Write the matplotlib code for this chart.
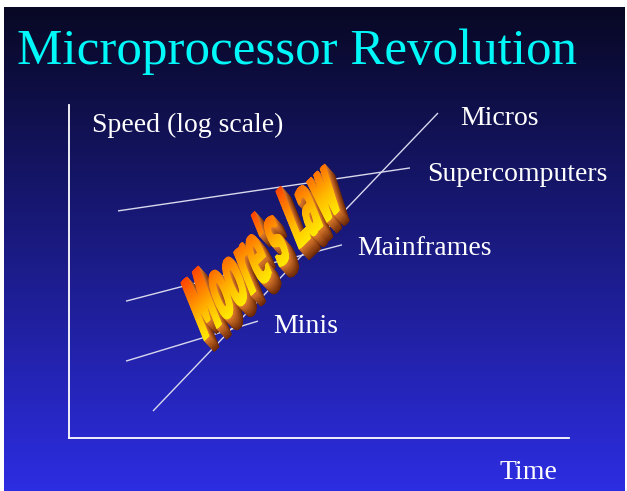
import numpy as np
import matplotlib
matplotlib.use("Agg")
import matplotlib.pyplot as plt
from matplotlib.textpath import TextPath
from matplotlib.font_manager import FontProperties
from matplotlib.patches import PathPatch
from matplotlib.path import Path
from matplotlib.transforms import Affine2D
from matplotlib.colors import LinearSegmentedColormap

W, H = 627, 491

# ---- chart data: time (0-100) against log speed (0-100) ----
series_names = ["Micros", "Supercomputers", "Mainframes", "Minis"]
micros_time = [16.8, 73.8]
micros_speed = [8.1, 97.6]
super_time = [9.8, 68.2]
super_speed = [68.2, 81.1]
mainframe_time = [11.4, 54.6]
mainframe_speed = [41.1, 58.0]
minis_time = [11.4, 37.8]
minis_speed = [23.1, 35.1]

title = "Microprocessor Revolution"
y_label = "Speed (log scale)"
x_label = "Time"
wordart = "Moore's Law"

serif = ["Liberation Serif", "DejaVu Serif"]

fig = plt.figure(figsize=(W / 100, H / 100), dpi=100, facecolor="white")

# ---- slide background: vertical gradient from near-black navy to blue ----
bg = fig.add_axes([4 / W, 0, 621 / W, 484 / H], zorder=0)
t = np.linspace(0, 1, 256)[:, None]
top = np.array([8, 8, 36]) / 255
bot = np.array([45, 45, 226]) / 255
grad = top[None, None, :] * (1 - t[..., None]) + bot[None, None, :] * t[..., None]
bg.imshow(grad, aspect="auto", extent=(0, 1, 1, 0))
bg.set_axis_off()

# ---- chart axes ----
ax = fig.add_axes([69 / W, (H - 438) / H, 500 / W, 333 / H], zorder=2)
ax.set_facecolor("none")
ax.set_xlim(0, 100)
ax.set_ylim(0, 100)
for side in ("top", "right"):
    ax.spines[side].set_visible(False)
for side in ("left", "bottom"):
    ax.spines[side].set_color("white")
    ax.spines[side].set_linewidth(1.3)
ax.set_xticks([])
ax.set_yticks([])

line_kw = dict(color="#d8d8ee", lw=1.0, solid_capstyle="butt", clip_on=False)
ax.plot(micros_time, micros_speed, **line_kw)
ax.plot(super_time, super_speed, **line_kw)
ax.plot(mainframe_time, mainframe_speed, **line_kw)
ax.plot(minis_time, minis_speed, **line_kw)

# ---- overlay in pixel coordinates for text and word art ----
ov = fig.add_axes([0, 0, 1, 1], zorder=3)
ov.set_xlim(0, W)
ov.set_ylim(H, 0)
ov.set_axis_off()
ov.patch.set_alpha(0)

ov.text(17, 64, title, color="#00f8f8", fontsize=36.7, family=serif, va="baseline")
ov.text(92, 132, y_label, color="white", fontsize=20, family=serif, va="baseline")
ov.text(500, 479, x_label, color="white", fontsize=20, family=serif, va="baseline")
label_pos = {"Micros": (460, 125), "Supercomputers": (427, 181),
             "Mainframes": (357, 255), "Minis": (273, 333)}
for name in series_names:
    x, y = label_pos[name]
    ov.text(x, y, name, color="white", fontsize=20, family=serif, va="baseline")

# ---- "Moore's Law" word art: sheared, heavy, extruded, gradient-filled ----
fp = FontProperties(family="DejaVu Sans", weight="bold", stretch="condensed")
tp = TextPath((0, 0), wordart, size=100, prop=fp)
cap = TextPath((0, 0), "M", size=100, prop=fp).get_extents().height
ext = tp.get_extents()

length, height = 190.0, 63.0
base_ang = np.deg2rad(44)
lean = np.deg2rad(22)
sx = length / ext.width
sy = height / cap
x0, y0 = 204.0, 343.0
ux, uy = np.cos(base_ang) * sx, -np.sin(base_ang) * sx
vx, vy = -np.sin(lean) * sy, -np.cos(lean) * sy
M = np.array([[ux, vx, x0 - ux * ext.x0], [uy, vy, y0], [0, 0, 1]])
face_tr = Affine2D(M)

# thicken the strokes slightly by merging copies shifted along the baseline
base_px = face_tr.transform_path(tp)
udir = np.array([np.cos(base_ang), -np.sin(base_ang)])
shifts = np.linspace(0, 2.8, 5)
heavy = Path.make_compound_path(*[
    Affine2D().translate(*(udir * s)).transform_path(base_px) for s in shifts])

depth = 18
step = np.array([0.55, 0.6])
dark = np.array([105, 38, 6]) / 255
light = np.array([225, 125, 45]) / 255
for k in range(depth, 0, -1):
    f = 1 - k / depth
    col = dark * (1 - f) + light * f
    off = Affine2D().translate(step[0] * k, step[1] * k)
    ov.add_patch(PathPatch(heavy, transform=off + ov.transData,
                           facecolor=col, edgecolor="none", zorder=4))

face = PathPatch(heavy, transform=ov.transData, facecolor="none",
                 edgecolor="none", zorder=6)
ov.add_patch(face)

# gradient fill for the face, running from yellow at the baseline to red-orange at the top
verts = heavy.vertices
xmin, xmax = verts[:, 0].min() - 2, verts[:, 0].max() + 2
ymin, ymax = verts[:, 1].min() - 2, verts[:, 1].max() + 2
gx, gy = np.meshgrid(np.linspace(xmin, xmax, 300), np.linspace(ymin, ymax, 300))
Minv = np.linalg.inv(M)
local_y = Minv[1, 0] * gx + Minv[1, 1] * gy + Minv[1, 2]
v = np.clip(local_y / cap, 0, 1)
fire = LinearSegmentedColormap.from_list("fire", ["#ffe800", "#ffbe00", "#ff8000", "#ff4400"])
im = ov.imshow(v, cmap=fire, vmin=0, vmax=1, origin="upper",
               extent=(xmin, xmax, ymax, ymin), aspect="auto", zorder=5,
               interpolation="bilinear")
im.set_clip_path(face)
ov.set_xlim(0, W)
ov.set_ylim(H, 0)

fig.savefig("out.png", dpi=100, facecolor="white")
